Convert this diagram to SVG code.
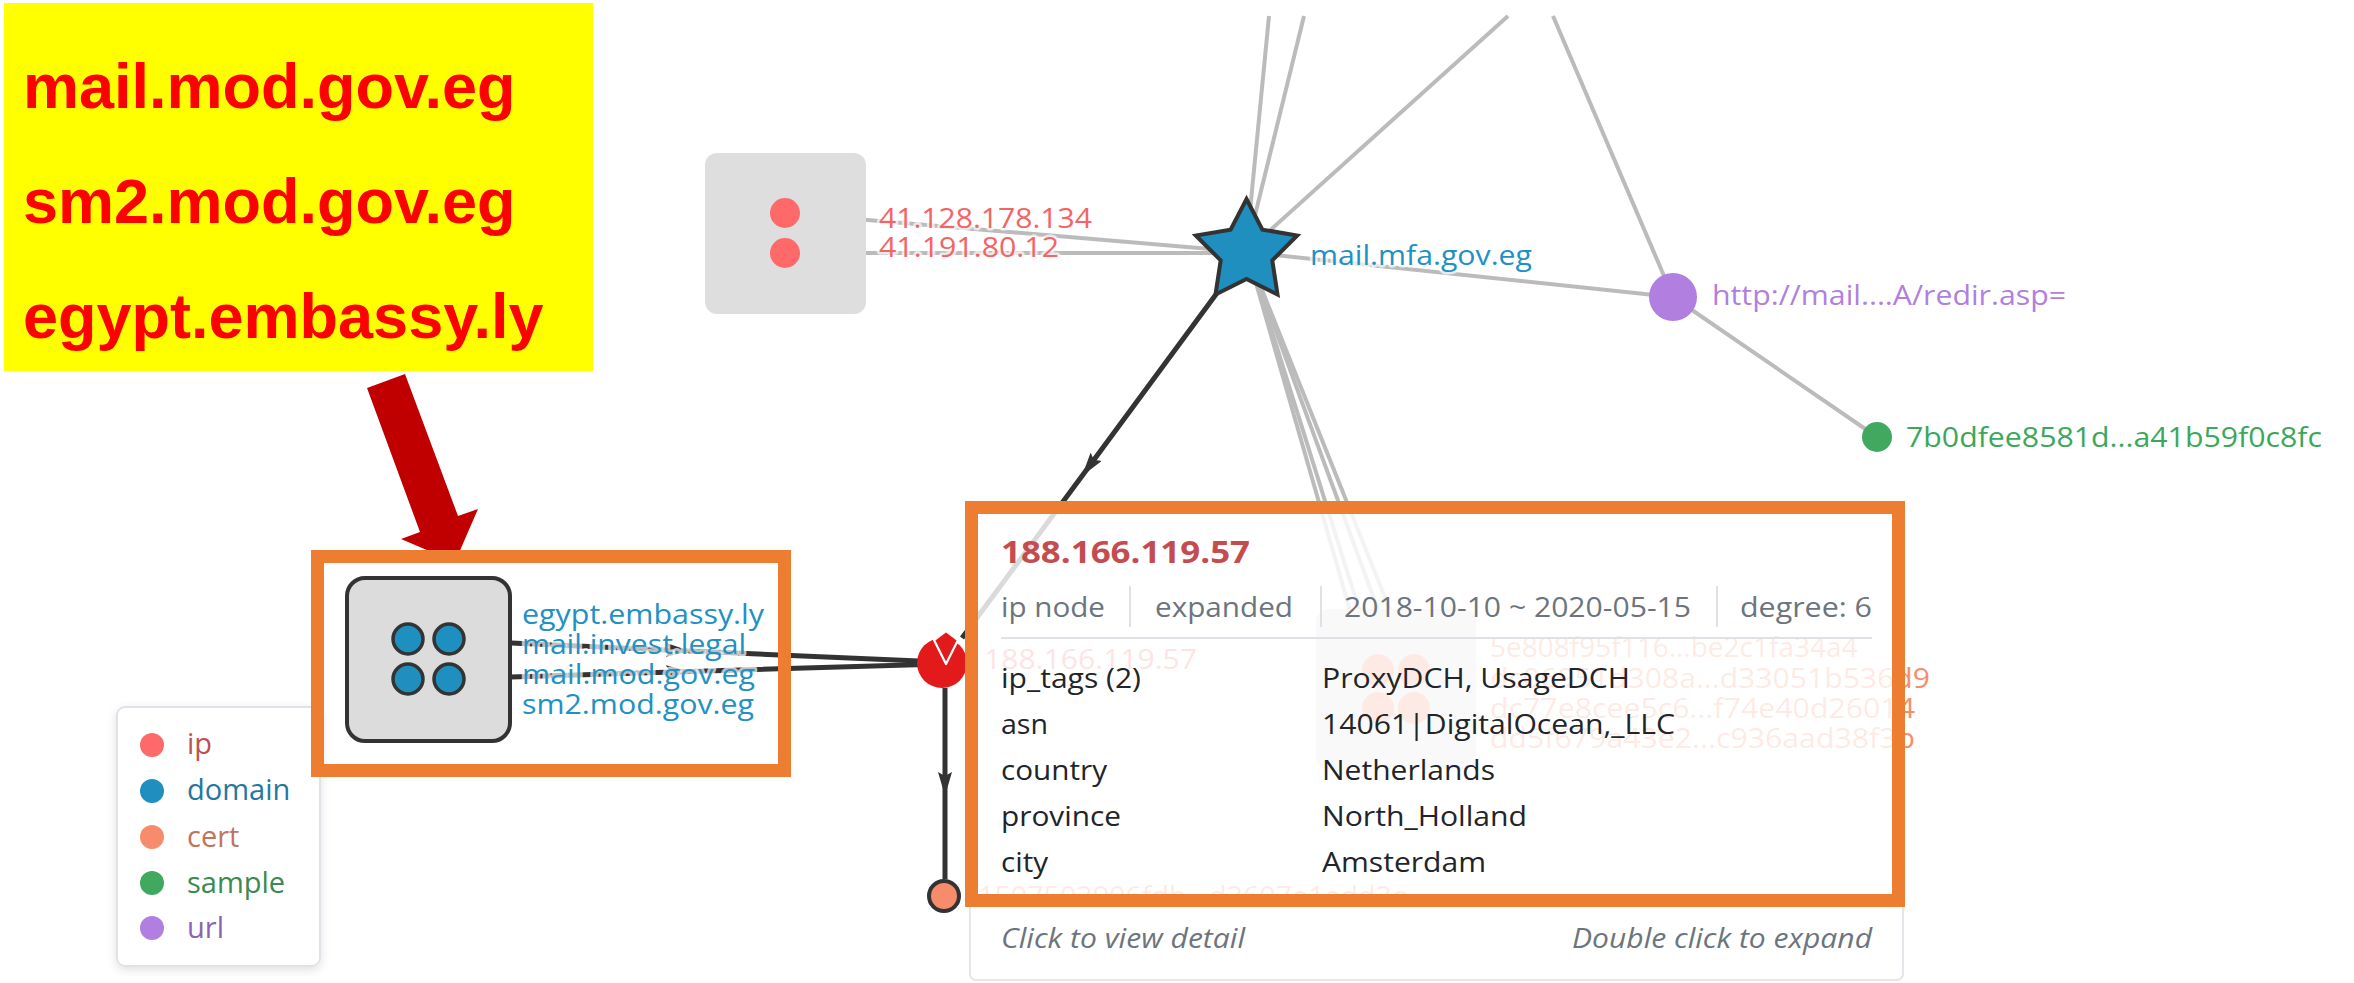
<svg xmlns="http://www.w3.org/2000/svg" width="2354" height="983" viewBox="0 0 2354 983">
  <style>
    .gl { font-family: "Open Sans", "Noto Sans", "DejaVu Sans", sans-serif; font-size: 28px; stroke: #fff; stroke-width: 5px; stroke-opacity: 0.7; paint-order: stroke; stroke-linejoin: round; }
    .ipc { fill: #f56464; }
    .dom { fill: #2191c4; }
    .crt { fill: #f78c6c; }
    .edge { stroke: #bbbbbb; stroke-width: 4; fill: none; }
    .hl { stroke: #333333; stroke-width: 5; fill: none; }
    .tt { font-family: "Open Sans", "Noto Sans", "DejaVu Sans", sans-serif; font-size: 27px; fill: #212529; }
    .tt.title { font-size: 31px; font-weight: 700; fill: #c44c4f; }
    .tt.th { fill: #6c757d; }
    .tt.ft { fill: #6c757d; font-style: italic; }
    .sep { stroke: #dee2e6; stroke-width: 2; }
    .lg { font-family: "Open Sans", "Noto Sans", "DejaVu Sans", sans-serif; font-size: 29px; }
    .note { font-family: "Liberation Sans", Arial, sans-serif; font-weight: bold; font-size: 63px; fill: #ff0000; }
    .frame { fill: none; stroke: #ed7d31; stroke-width: 13; }
  </style>
  <defs>
    <marker id="ah" markerUnits="userSpaceOnUse" viewBox="0 0 24 14" markerWidth="24" markerHeight="14" refX="24" refY="7" orient="auto">
      <path d="M0,0 L24,7 L0,14 L4,7 Z" fill="#333"/>
    </marker>
    <filter id="shadow" x="-10%" y="-10%" width="120%" height="120%">
      <feDropShadow dx="0" dy="3" stdDeviation="5" flood-color="#000" flood-opacity="0.12"/>
    </filter>
  </defs>

  <rect x="0" y="0" width="2354" height="983" fill="#ffffff"/>

  <!-- connectors -->
  <g id="connectors">
    <line class="edge" x1="785" y1="213" x2="1246" y2="252"/>
    <line class="edge" x1="785" y1="253" x2="1246" y2="253"/>
    <line class="edge" x1="1246" y1="252" x2="1269" y2="16"/>
    <line class="edge" x1="1246" y1="252" x2="1304" y2="16"/>
    <line class="edge" x1="1246" y1="252" x2="1508" y2="16"/>
    <line class="edge" x1="1246" y1="252" x2="1673" y2="297"/>
    <line class="edge" x1="1553" y1="16" x2="1673" y2="297"/>
    <line class="edge" x1="1673" y1="297" x2="1877" y2="437"/>
    <line class="edge" x1="1248" y1="255" x2="1378" y2="670"/>
    <line class="edge" x1="1248" y1="255" x2="1414" y2="670"/>
    <line class="edge" x1="1248" y1="255" x2="1378" y2="708"/>
    <line class="edge" x1="1248" y1="255" x2="1414" y2="708"/>
    <path class="hl" d="M1217,293 L1082,476 L962,638" marker-mid="url(#ah)" stroke-width="4"/>
    <path class="hl" d="M511,643 L690,651 L942,662" marker-mid="url(#ah)"/>
    <path class="hl" d="M511,677 L690,671.5 L942,664" marker-mid="url(#ah)"/>
    <path class="hl" d="M945,688 L945,796 L945,879" marker-mid="url(#ah)" stroke-width="4"/>
  </g>

  <!-- ip cluster -->
  <g id="node-ip-cluster">
    <rect x="705" y="153" width="161" height="161" rx="12" fill="#dedede"/>
    <circle cx="785" cy="213" r="15" fill="#fe6a6a"/>
    <circle cx="785" cy="253" r="15" fill="#fe6a6a"/>
    <text class="gl ipc" x="879" y="228" textLength="213" lengthAdjust="spacingAndGlyphs">41.128.178.134</text>
    <text class="gl ipc" x="879" y="257" textLength="180" lengthAdjust="spacingAndGlyphs">41.191.80.12</text>
  </g>

  <!-- domain star -->
  <g id="node-mail-mfa">
    <polygon points="1246.5,199 1262.4,229.6 1297.2,235.5 1272.3,260.4 1277.5,294.5 1246.5,279 1215.5,294.5 1220.7,260.4 1195.8,235.5 1230.6,229.6" fill="#1f8fc0" stroke="#333" stroke-width="4" stroke-linejoin="miter"/>
    <text class="gl dom" x="1310" y="265" textLength="222" lengthAdjust="spacingAndGlyphs">mail.mfa.gov.eg</text>
  </g>

  <!-- url -->
  <g id="node-url">
    <circle cx="1673" cy="297" r="24" fill="#b07fe0"/>
    <text class="gl" fill="#b07fe0" x="1712" y="305" textLength="354" lengthAdjust="spacingAndGlyphs">http://mail....A/redir.asp=</text>
  </g>

  <!-- sample -->
  <g id="node-sample">
    <circle cx="1877" cy="437" r="15" fill="#41a85f"/>
    <text class="gl" fill="#3aa85b" x="1906" y="447" textLength="416" lengthAdjust="spacingAndGlyphs">7b0dfee8581d...a41b59f0c8fc</text>
  </g>

  <!-- domain cluster -->
  <g id="node-domain-cluster">
    <rect x="347" y="578" width="163" height="163" rx="18" fill="#dcdcdc" stroke="#333" stroke-width="4"/>
    <circle cx="408" cy="639" r="15" fill="#1f8fc0" stroke="#333" stroke-width="3.5"/>
    <circle cx="449" cy="639" r="15" fill="#1f8fc0" stroke="#333" stroke-width="3.5"/>
    <circle cx="408" cy="679" r="15" fill="#1f8fc0" stroke="#333" stroke-width="3.5"/>
    <circle cx="449" cy="679" r="15" fill="#1f8fc0" stroke="#333" stroke-width="3.5"/>
    <text class="gl dom" x="522" y="624" textLength="242" lengthAdjust="spacingAndGlyphs">egypt.embassy.ly</text>
    <text class="gl dom" x="522" y="654" textLength="224" lengthAdjust="spacingAndGlyphs">mail.invest.legal</text>
    <text class="gl dom" x="522" y="684" textLength="233" lengthAdjust="spacingAndGlyphs">mail.mod.gov.eg</text>
    <text class="gl dom" x="522" y="714" textLength="232" lengthAdjust="spacingAndGlyphs">sm2.mod.gov.eg</text>
  </g>

  <!-- selected ip -->
  <g id="node-ip-188">
    <circle cx="942" cy="663" r="25" fill="#e31a1c"/>
    <path d="M934,640 L946,631 L958,640 L946,664 Z" fill="#e31a1c" stroke="#fff" stroke-width="2.2" stroke-linejoin="round"/>
    <text class="gl ipc" x="984" y="669" textLength="213" lengthAdjust="spacingAndGlyphs">188.166.119.57</text>
  </g>

  <!-- cert -->
  <g id="node-cert">
    <circle cx="944" cy="896" r="15" fill="#f78c6c" stroke="#333" stroke-width="4"/>
    <text class="gl crt" x="978" y="906" textLength="430" lengthAdjust="spacingAndGlyphs">1507503906fdb...d2607e1add3e</text>
  </g>

  <!-- cert cluster -->
  <g id="node-cert-cluster">
    <rect x="1316" y="609" width="160" height="160" rx="12" fill="#dcdcdc"/>
    <circle cx="1378" cy="670" r="16" fill="#f78c6c"/>
    <circle cx="1414" cy="670" r="16" fill="#f78c6c"/>
    <circle cx="1378" cy="708" r="16" fill="#f78c6c"/>
    <circle cx="1414" cy="708" r="16" fill="#f78c6c"/>
    <text class="gl crt" x="1490" y="657">5e808f95f116...be2c1fa34a4</text>
    <text class="gl crt" x="1490" y="688" textLength="440" lengthAdjust="spacingAndGlyphs">dc06951d308a...d33051b536d9</text>
    <text class="gl crt" x="1490" y="718" textLength="425" lengthAdjust="spacingAndGlyphs">dc77e8cee5c6...f74e40d26014</text>
    <text class="gl crt" x="1490" y="748" textLength="425" lengthAdjust="spacingAndGlyphs">dd5f679a43e2...c936aad38f3b</text>
  </g>

  <!-- legend -->
  <g id="legend">
    <rect x="117" y="707" width="203" height="259" rx="8" fill="#fff" stroke="#dfe3e8" stroke-width="2" filter="url(#shadow)"/>
    <circle cx="152" cy="745" r="12" fill="#fe6a6a"/>
    <circle cx="152" cy="791" r="12" fill="#1f8fc0"/>
    <circle cx="152" cy="837" r="12" fill="#f78c6c"/>
    <circle cx="152" cy="883" r="12" fill="#41a85f"/>
    <circle cx="152" cy="928" r="12" fill="#b07fe0"/>
    <text class="lg" x="187" y="754" fill="#c0504f">ip</text>
    <text class="lg" x="187" y="800" fill="#2477a0">domain</text>
    <text class="lg" x="187" y="847" fill="#c0735e">cert</text>
    <text class="lg" x="187" y="893" fill="#3a8a52">sample</text>
    <text class="lg" x="187" y="938" fill="#8c62b8">url</text>
  </g>

  <!-- node detail popup -->
  <g id="tooltip">
    <rect x="970" y="503" width="933" height="477" rx="6" fill="#fff" fill-opacity="0.82" stroke="#e3e6ea" stroke-width="2"/>
    <text class="tt title" x="1001" y="563" textLength="249" lengthAdjust="spacingAndGlyphs">188.166.119.57</text>
    <text class="tt th" x="1001" y="617" textLength="104" lengthAdjust="spacingAndGlyphs">ip node</text>
    <line class="sep" x1="1130" y1="586" x2="1130" y2="627"/>
    <text class="tt th" x="1155" y="617" textLength="138" lengthAdjust="spacingAndGlyphs">expanded</text>
    <line class="sep" x1="1321" y1="586" x2="1321" y2="627"/>
    <text class="tt th" x="1344" y="617" textLength="347" lengthAdjust="spacingAndGlyphs">2018-10-10 ~ 2020-05-15</text>
    <line class="sep" x1="1717" y1="586" x2="1717" y2="627"/>
    <text class="tt th" x="1740" y="617" textLength="132" lengthAdjust="spacingAndGlyphs">degree: 6</text>
    <line class="sep" x1="1001" y1="638" x2="1872" y2="638" stroke-width="2.5"/>
    <text class="tt" x="1001" y="688" textLength="140" lengthAdjust="spacingAndGlyphs">ip_tags (2)</text>
    <text class="tt" x="1322" y="688" textLength="308" lengthAdjust="spacingAndGlyphs">ProxyDCH, UsageDCH</text>
    <text class="tt" x="1001" y="734" textLength="47" lengthAdjust="spacingAndGlyphs">asn</text>
    <text class="tt" x="1322" y="734" textLength="353" lengthAdjust="spacingAndGlyphs">14061|DigitalOcean,_LLC</text>
    <text class="tt" x="1001" y="780" textLength="106" lengthAdjust="spacingAndGlyphs">country</text>
    <text class="tt" x="1322" y="780" textLength="173" lengthAdjust="spacingAndGlyphs">Netherlands</text>
    <text class="tt" x="1001" y="826" textLength="120" lengthAdjust="spacingAndGlyphs">province</text>
    <text class="tt" x="1322" y="826" textLength="205" lengthAdjust="spacingAndGlyphs">North_Holland</text>
    <text class="tt" x="1001" y="872" textLength="47" lengthAdjust="spacingAndGlyphs">city</text>
    <text class="tt" x="1322" y="872" textLength="164" lengthAdjust="spacingAndGlyphs">Amsterdam</text>
    <text class="tt ft" x="1001" y="948" textLength="244" lengthAdjust="spacingAndGlyphs">Click to view detail</text>
    <text class="tt ft" x="1572" y="948" textLength="300" lengthAdjust="spacingAndGlyphs">Double click to expand</text>
  </g>

  <!-- callout note with pointer arrow and highlight frames -->
  <g id="note">
    <rect x="4" y="3" width="589" height="368" fill="#ffff00"/>
    <text class="note" x="23" y="108">mail.mod.gov.eg</text>
    <text class="note" x="23" y="223">sm2.mod.gov.eg</text>
    <text class="note" x="23" y="338">egypt.embassy.ly</text>
  </g>
  <g id="pointer">
    <polygon points="367,388 405,374 458,516 478,509 455,562 401,539 420,532" fill="#c00000"/>
  </g>
  <g id="frames">
    <rect class="frame" x="317.5" y="556.5" width="467" height="214"/>
    <rect class="frame" x="971.5" y="507.5" width="927" height="393"/>
  </g>
</svg>
